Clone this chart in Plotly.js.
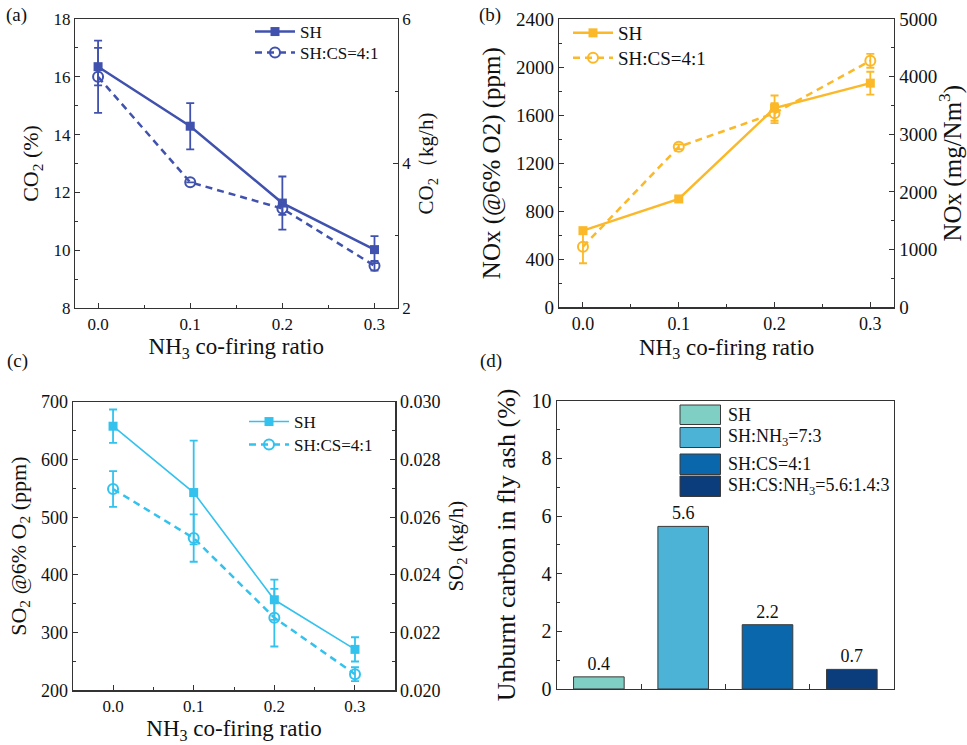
<!DOCTYPE html>
<html>
<head>
<meta charset="utf-8">
<script src="https://cdn.plot.ly/plotly-3.0.1.min.js"></script>
<style>html,body{margin:0;padding:0;background:#fff;}#chart{width:967px;height:745px;}</style>
</head>
<body>
<div id="chart"></div>
<script>
// ---------- data ----------
const ratio = [0.0, 0.1, 0.2, 0.3];
const xTickVals = [0.0, 0.1, 0.2, 0.3];
const xTickText = ['0.0', '0.1', '0.2', '0.3'];

// (a) CO2 (%)
const co2SH = [16.35, 14.29, 11.63, 10.02];
const co2SHErr = [0.65, 0.80, 0.92, 0.47];
const co2CS = [16.0, 12.35, 11.44, 9.46];
const co2CSErr = [1.25, 0.0, 0.22, 0.17];

// (b) NOx (ppm)
const noxSH = [638, 902, 1658, 1866];
const noxSHErr = [20, 20, 105, 95];
const noxCS = [505, 1336, 1616, 2052];
const noxCSErr = [138, 20, 83, 58];

// (c) SO2 (ppm)
const so2SH = [658, 543, 357, 271];
const so2SHErr = [29, 90, 35, 21];
const so2CS = [549, 464, 326, 228];
const so2CSErr = [31, 41, 50, 12];

// (d) unburnt carbon
const ashCats = ['SH', 'SH:NH<sub>3</sub>=7:3', 'SH:CS=4:1', 'SH:CS:NH<sub>3</sub>=5.6:1.4:3'];
const ashVals = [0.42, 5.64, 2.23, 0.68];
const ashLabels = ['0.4', '5.6', '2.2', '0.7'];
const ashColors = ['#7FCFC4', '#4DB3D6', '#0B67AC', '#0B3D7C'];

const seriesNames = ['SH', 'SH:CS=4:1'];

// ---------- styling ----------
const FONT = 'Liberation Serif';
const cA = '#4052AE', cB = '#FBB829', cC = '#33C2EE';
const DASH = '7px,5px';

function lineTrace(y, err, name, color, solid, xa, ya, legend, lw) {
  return {
    x: ratio, y: y, name: name, type: 'scatter', mode: 'lines+markers',
    xaxis: xa, yaxis: ya, legend: legend,
    line: {color: color, width: lw, dash: solid ? 'solid' : DASH},
    marker: solid ? {symbol: 'square', size: 9, color: color}
                  : {symbol: 'circle-open', size: 10, color: color, line: {width: 2, color: color}},
    error_y: {type: 'data', array: err, visible: true, color: color, thickness: 1.8, width: 4},
    cliponaxis: false
  };
}

const traces = [
  lineTrace(co2SH, co2SHErr, seriesNames[0], cA, true, 'x', 'y', 'legend', 2.5),
  lineTrace(co2CS, co2CSErr, seriesNames[1], cA, false, 'x', 'y', 'legend2', 2.5),
  lineTrace(noxSH, noxSHErr, seriesNames[0], cB, true, 'x2', 'y3', 'legend3', 2.5),
  lineTrace(noxCS, noxCSErr, seriesNames[1], cB, false, 'x2', 'y3', 'legend4', 2.5),
  lineTrace(so2SH, so2SHErr, seriesNames[0], cC, true, 'x3', 'y5', 'legend5', 1.6),
  lineTrace(so2CS, so2CSErr, seriesNames[1], cC, false, 'x3', 'y5', 'legend6', 2.5),
  // invisible traces to activate the right-hand axes
  {x: [ratio[0]], y: [null], xaxis: 'x', yaxis: 'y2', showlegend: false, type: 'scatter', hoverinfo: 'skip'},
  {x: [ratio[0]], y: [null], xaxis: 'x2', yaxis: 'y4', showlegend: false, type: 'scatter', hoverinfo: 'skip'},
  {x: [ratio[0]], y: [null], xaxis: 'x3', yaxis: 'y6', showlegend: false, type: 'scatter', hoverinfo: 'skip'},
  {
    type: 'bar', x: ashCats, y: ashVals, text: ashLabels, textposition: 'outside',
    textfont: {family: FONT, size: 18, color: '#111'},
    xaxis: 'x4', yaxis: 'y7', width: 0.6, showlegend: false, cliponaxis: false,
    marker: {color: ashColors, line: {color: '#3a3a3a', width: 1}}
  }
];

function xAxis(domain, anchor, range, tfs, titleSize) {
  return {
    domain: domain, anchor: anchor, range: range,
    tickvals: xTickVals, ticktext: xTickText,
    ticks: 'inside', ticklen: 5, tickwidth: 1, tickcolor: '#333',
    minor: {dtick: 0.05, tick0: 0, ticks: 'inside', ticklen: 3, tickcolor: '#333'},
    showline: true, linecolor: '#333', linewidth: 1.2, mirror: true,
    showgrid: false, zeroline: false,
    tickfont: {family: FONT, size: tfs, color: '#111'},
    title: {text: 'NH<sub>3</sub> co-firing ratio', font: {family: FONT, size: titleSize, color: '#111'}, standoff: 5}
  };
}
function yAxis(domain, anchor, range, dtick, mdtick, tfs, title, titleSize, opts) {
  return Object.assign({
    domain: domain, anchor: anchor, range: range, dtick: dtick, tick0: range[0],
    ticks: 'inside', ticklen: 5, tickwidth: 1, tickcolor: '#333',
    minor: {dtick: mdtick, ticks: 'inside', ticklen: 3, tickcolor: '#333'},
    showline: true, linecolor: '#333', linewidth: 1.2,
    showgrid: false, zeroline: false,
    tickfont: {family: FONT, size: tfs, color: '#111'},
    title: {text: title, font: {family: FONT, size: titleSize, color: '#111'}, standoff: 8}
  }, opts || {});
}

const dA = {x: [0.0776, 0.4111], y: [0.5866, 0.9745]};
const dB = {x: [0.5781, 0.9248], y: [0.5875, 0.9745]};
const dC = {x: [0.0752, 0.4088], y: [0.0734, 0.4604]};
const dD = {x: [0.5757, 0.9245], y: [0.0752, 0.4621]};

function legendAt(xpx, ypx, size) {
  return {x: xpx / 967, y: 1 - ypx / 745, xanchor: 'left', yanchor: 'top', bgcolor: 'rgba(0,0,0,0)', borderwidth: 0,
          itemwidth: 40, font: {family: FONT, size: size, color: '#111'}};
}

// legend boxes for panel (d)
const boxX0 = 680 / 967, boxX1 = 720.5 / 967;
const boxRows = [[405, 424.5], [427.5, 447.5], [454, 474.5], [476, 496.5]];
const shapes = [], annotations = [];
boxRows.forEach((r, i) => {
  shapes.push({type: 'rect', xref: 'paper', yref: 'paper', x0: boxX0, x1: boxX1,
               y0: 1 - r[1] / 745, y1: 1 - r[0] / 745,
               fillcolor: ashColors[i], line: {color: '#3a3a3a', width: 1}});
  annotations.push({xref: 'paper', yref: 'paper', x: 726 / 967, y: 1 - (r[0] + r[1]) / 2 / 745,
                    xanchor: 'left', yanchor: 'middle', showarrow: false, text: ashCats[i],
                    font: {family: FONT, size: 18, color: '#111'}});
});
[['(a)', 16, 15], ['(b)', 490, 15], ['(c)', 17, 361], ['(d)', 491, 361]].forEach(p => {
  annotations.push({xref: 'paper', yref: 'paper', x: p[1] / 967, y: 1 - p[2] / 745, xanchor: 'center', yanchor: 'middle',
                    showarrow: false, text: p[0], font: {family: FONT, size: 19, color: '#111'}});
});

const layout = {
  width: 967, height: 745, margin: {l: 0, r: 0, t: 0, b: 0},
  paper_bgcolor: '#fff', plot_bgcolor: '#fff', showlegend: true,
  font: {family: FONT, color: '#111'},
  // (a)
  xaxis: xAxis(dA.x, 'y', [-0.025, 0.325], 17, 23),
  yaxis: yAxis(dA.y, 'x', [8, 18], 2, 1, 17, 'CO<sub>2</sub> (%)', 22, {mirror: false}),
  yaxis2: yAxis(dA.y, 'x', [2, 6], 2, 1, 17, 'CO<sub>2</sub>（kg/h)', 21, {overlaying: 'y', side: 'right'}),
  // (b)
  xaxis2: xAxis(dB.x, 'y3', [-0.025, 0.325], 18, 23),
  yaxis3: yAxis(dB.y, 'x2', [0, 2400], 400, 200, 19, 'NOx (@6% O2) (ppm)', 25),
  yaxis4: yAxis(dB.y, 'x2', [0, 5000], 1000, 500, 19, 'NOx (mg/Nm<sup>3</sup>)', 25, {overlaying: 'y3', side: 'right'}),
  // (c)
  xaxis3: xAxis(dC.x, 'y5', [-0.05, 0.35], 17, 23),
  yaxis5: yAxis(dC.y, 'x3', [200, 700], 100, 50, 18, 'SO<sub>2</sub> <i>@</i>6% O<sub>2</sub> (ppm)', 22),
  yaxis6: yAxis(dC.y, 'x3', [0.020, 0.030], 0.002, 0.001, 18, 'SO<sub>2</sub> (kg/h)', 21, {overlaying: 'y5', side: 'right', tickformat: '.3f'}),
  // (d)
  xaxis4: {domain: dD.x, anchor: 'y7', type: 'category', range: [-0.5, 3.5], showticklabels: false,
           ticks: 'inside', tickson: 'boundaries', ticklen: 5, tickcolor: '#333',
           showline: true, linecolor: '#333', linewidth: 1.2, mirror: true, showgrid: false, zeroline: false},
  yaxis7: yAxis(dD.y, 'x4', [0, 10], 2, 1, 20, 'Unburnt carbon in fly ash (%)', 26, {mirror: true}),
  legend: legendAt(250, 14, 17),
  legend2: legendAt(250, 35, 17),
  legend3: legendAt(568, 14, 19),
  legend4: legendAt(568, 39, 19),
  legend5: legendAt(244, 404, 17),
  legend6: legendAt(244, 427, 17),
  shapes: shapes,
  annotations: annotations
};

Plotly.newPlot('chart', traces, layout, {staticPlot: true, displayModeBar: false});
</script>
</body>
</html>
